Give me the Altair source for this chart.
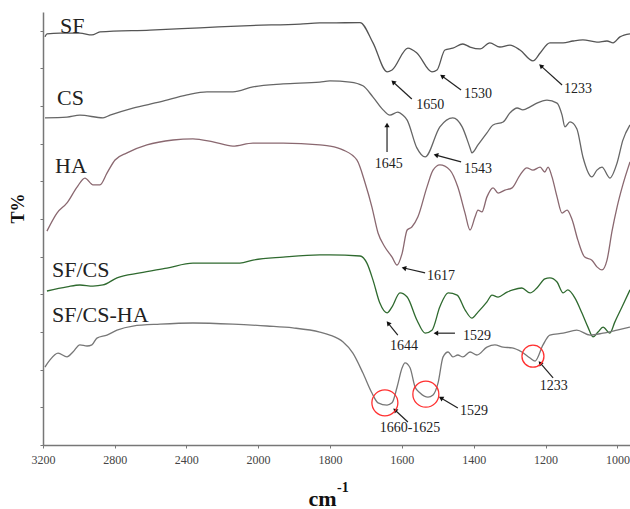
import math
import altair as alt
import pandas as pd

# ---------------- data ----------------
SERIES = ["SF", "CS", "HA", "SF/CS", "SF/CS-HA"]
COLORS = ["#555555", "#666666", "#8a6870", "#2f6a2f", "#777777"]
WIDTHS = [1.3, 1.3, 1.3, 2.0, 1.3]

sf_wn = [3189, 3178, 3105, 2994, 2927, 2882, 2603, 2324, 2045, 1883, 1828, 1800, 1716, 1680, 1641, 1627,
         1583, 1558, 1516, 1502, 1480, 1458, 1430, 1410, 1382, 1355, 1327, 1299, 1271, 1235, 1215, 1188,
         1151, 1124, 1096, 1057, 1029, 1012, 993, 965]
sf_t = [108.4, 109.2, 109.4, 109.4, 108.9, 109.7, 110.2, 110.8, 111.4, 111.8, 112.1, 112.1, 112.2, 106.8,
        99.1, 99.6, 105.4, 104.1, 99.1, 99.6, 104.9, 105.4, 106.5, 105.7, 105.2, 106.8, 105.7, 106.2,
        104.9, 102.0, 104.1, 106.8, 106.8, 107.3, 107.6, 107.0, 107.3, 106.8, 108.4, 109.2]

cs_wn = [3189, 3066, 2994, 2865, 2826, 2698, 2547, 2396, 2285, 2140, 2028, 1930, 1828, 1800, 1744, 1708,
         1680, 1652, 1633, 1611, 1597, 1585, 1558, 1535, 1494, 1458, 1432, 1410, 1405, 1388, 1363, 1346,
         1318, 1299, 1279, 1263, 1243, 1224, 1196, 1168, 1154, 1146, 1132, 1113, 1096, 1071, 1057, 1043,
         1021, 1001, 985, 965]
cs_t = [86.9, 87.1, 87.6, 86.9, 87.6, 89.5, 91.1, 93.0, 93.8, 93.8, 95.1, 95.9, 96.4, 96.7, 96.4, 95.4,
        92.4, 89.0, 87.6, 88.4, 87.6, 86.3, 78.9, 76.5, 84.5, 86.9, 84.5, 78.9, 77.6, 79.7, 82.9, 85.0,
        85.8, 88.2, 89.5, 89.0, 89.8, 90.8, 91.6, 90.8, 87.6, 84.5, 85.8, 84.0, 76.5, 71.2, 73.0, 73.8,
        70.9, 74.9, 80.9, 85.0]

ha_wn = [3178, 3122, 3066, 3010, 2966, 2921, 2882, 2843, 2798, 2731, 2620, 2474, 2363, 2251, 2140, 2028,
         1930, 1828, 1800, 1764, 1725, 1702, 1683, 1666, 1647, 1627, 1613, 1599, 1585, 1572, 1555, 1530,
         1513, 1494, 1466, 1444, 1424, 1410, 1396, 1388, 1377, 1363, 1346, 1332, 1313, 1293, 1271, 1252,
         1235, 1215, 1202, 1193, 1182, 1168, 1154, 1140, 1126, 1110, 1091, 1071, 1057, 1043, 1029, 1015,
         1001, 985, 965]
ha_t = [56.8, 61.6, 64.3, 68.5, 70.9, 69.1, 69.1, 72.2, 75.7, 77.6, 79.7, 81.0, 81.3, 80.5, 79.4, 80.2,
        80.2, 79.7, 79.4, 78.4, 75.7, 69.6, 63.2, 56.3, 52.6, 49.9, 47.8, 50.9, 57.1, 57.9, 60.6, 68.5,
        73.0, 74.4, 73.0, 68.5, 61.6, 57.1, 60.6, 62.4, 61.9, 65.9, 68.3, 66.9, 67.7, 68.3, 71.7, 73.6,
        73.0, 73.8, 72.5, 73.8, 71.2, 65.9, 61.6, 62.4, 59.8, 54.4, 49.9, 49.1, 47.3, 46.5, 49.1, 56.8,
        63.2, 69.1, 75.2]

sfcs_wn = [3178, 3066, 2994, 2921, 2865, 2787, 2659, 2508, 2363, 2229, 2101, 2028, 1930, 1828, 1800, 1716,
           1697, 1680, 1661, 1641, 1627, 1605, 1585, 1558, 1535, 1516, 1494, 1471, 1446, 1424, 1405, 1388,
           1363, 1349, 1332, 1307, 1291, 1266, 1243, 1224, 1202, 1188, 1168, 1151, 1138, 1118, 1099, 1082,
           1068, 1054, 1040, 1021, 1007, 987, 965]
sfcs_t = [40.9, 42.0, 42.5, 42.2, 42.5, 44.4, 45.7, 47.0, 48.3, 48.3, 48.3, 49.1, 49.9, 50.5, 50.5, 50.2,
          48.3, 43.8, 37.7, 35.1, 36.7, 40.4, 39.3, 33.2, 29.7, 30.5, 36.7, 40.4, 39.8, 35.9, 33.7, 35.3,
          38.0, 39.8, 39.3, 40.6, 41.2, 41.7, 40.4, 41.7, 44.1, 44.4, 43.3, 40.4, 41.2, 39.0, 35.1, 31.3,
          28.7, 30.0, 31.3, 29.7, 32.7, 36.7, 41.2]

sfcsha_wn = [3189, 3161, 3116, 3066, 3033, 2994, 2954, 2927, 2899, 2843, 2787, 2698, 2547, 2363, 2140, 1975,
             1903, 1828, 1800, 1764, 1736, 1708, 1683, 1666, 1641, 1627, 1613, 1599, 1591, 1577, 1563, 1549,
             1527, 1513, 1499, 1485, 1471, 1458, 1444, 1430, 1410, 1391, 1363, 1341, 1318, 1293, 1266, 1243,
             1229, 1207, 1188, 1151, 1113, 1076, 1040, 1001, 965]
sfcsha_t = [20.7, 22.6, 24.4, 23.4, 24.7, 26.6, 26.3, 26.6, 28.4, 29.2, 30.5, 31.6, 32.1, 32.4, 32.1, 31.6,
            31.1, 30.0, 29.2, 27.4, 24.4, 19.1, 13.8, 11.2, 10.6, 11.2, 15.4, 20.5, 21.8, 20.5, 15.4, 13.8,
            12.7, 13.3, 16.5, 23.4, 24.7, 23.4, 23.9, 23.4, 24.7, 23.9, 26.0, 26.6, 26.0, 25.8, 24.7, 23.1,
            22.3, 26.6, 29.2, 29.7, 30.5, 29.2, 29.7, 30.5, 31.3]

# series labels
lab_text = ["SF", "CS", "HA", "SF/CS", "SF/CS-HA"]
lab_wn = [3105, 3122, 3133, 3150, 3150]
lab_t = [109.4, 90.3, 72.2, 44.6, 32.7]

# peak annotations
ann_text = ["1650", "1530", "1233", "1645", "1543", "1617", "1644", "1529", "1660-1625", "1529", "1233"]
ann_wn = [1521, 1388, 1110, 1636, 1388, 1491, 1594, 1391, 1577, 1399, 1177]
ann_t = [90.3, 93.2, 94.6, 74.6, 73.3, 44.9, 26.3, 29.0, 4.5, 9.0, 15.7]

# arrows: tail -> head
arr_wn = [1572, 1435, 1154, 1641, 1435, 1535, 1611, 1452, 1583, 1444, 1179]
arr_t = [91.9, 94.3, 95.6, 77.8, 75.2, 45.7, 29.2, 29.7, 6.1, 9.8, 17.8]
arr_wn2 = [1624, 1488, 1213, 1641, 1505, 1594, 1638, 1505, 1619, 1491, 1215]
arr_t2 = [96.4, 98.0, 100.7, 85.0, 77.0, 47.0, 32.4, 29.7, 9.3, 12.5, 21.8]

# red circles
circ_wn = [1647, 1533, 1235]
circ_t = [11.2, 13.5, 23.6]
circ_size = [676, 676, 484]

X_TICKS = [3200, 2800, 2400, 2000, 1800, 1600, 1400, 1200, 1000]
Y_TICKS = [0, 10, 20, 30, 40, 50, 60, 70, 80, 90, 100, 110]

# ---------------- layout ----------------
W, H = 587, 433
X_DOMAIN = [3200, 2000, 965]
X_RANGE = [0, 215, W]
Y_DOMAIN = [0, 115]
SERIF = "Liberation Serif"


def xpix(w):
    if w >= 2000:
        return (3200 - w) / 1200 * 215
    return 215 + (2000 - w) / 1035 * (W - 215)


def ypix(t):
    return H - t / 115 * H


rows = []
for name, wn, tt in zip(SERIES, [sf_wn, cs_wn, ha_wn, sfcs_wn, sfcsha_wn],
                        [sf_t, cs_t, ha_t, sfcs_t, sfcsha_t]):
    for a, b in zip(wn, tt):
        rows.append({"series": name, "wn": a, "T": b})
spec_df = pd.DataFrame(rows)

xscale = alt.Scale(domain=X_DOMAIN, range=X_RANGE, zero=False, nice=False)
yscale = alt.Scale(domain=Y_DOMAIN, zero=False, nice=False)

XAXIS = alt.Axis(values=X_TICKS, format="d", grid=False, domainColor="#777777",
                 domainWidth=1.5, tickColor="#777777", tickSize=3,
                 labelFont=SERIF, labelFontSize=12, labelColor="#444444",
                 labelPadding=6, labelFlush=False,
                 title="cm", titleFont=SERIF, titleFontSize=22, titleFontWeight="bold",
                 titleColor="#111111", titleX=279, titleY=60, titleAlign="center",
                 titleBaseline="alphabetic")
YAXIS = alt.Axis(values=Y_TICKS, labels=False, grid=False, domainColor="#777777",
                 domainWidth=1.5, tickColor="#777777", tickSize=3,
                 title="T%", titleFont=SERIF, titleFontSize=18, titleFontWeight="bold",
                 titleColor="#111111", titleX=-25, titleY=196, titleAngle=270,
                 titleAlign="center", titleBaseline="middle")

X = alt.X("wn:Q", scale=xscale, axis=XAXIS)
Y = alt.Y("T:Q", scale=yscale, axis=YAXIS)

lines = alt.Chart(spec_df).mark_line(interpolate="monotone").encode(
    x=X, y=Y,
    color=alt.Color("series:N", scale=alt.Scale(domain=SERIES, range=COLORS), legend=None),
    strokeWidth=alt.StrokeWidth("series:N", scale=alt.Scale(domain=SERIES, range=WIDTHS), legend=None),
    detail="series:N",
)

lab_df = pd.DataFrame({"text": lab_text, "wn": lab_wn, "T": lab_t})
labels = alt.Chart(lab_df).mark_text(font=SERIF, fontSize=22, align="left", baseline="alphabetic",
                                     color="#222222").encode(x=X, y=Y, text="text:N")

ann_df = pd.DataFrame({"text": ann_text, "wn": ann_wn, "T": ann_t})
anns = alt.Chart(ann_df).mark_text(font=SERIF, fontSize=14, align="center", baseline="middle",
                                   color="#222222").encode(x=X, y=Y, text="text:N")

angles = []
for a, b, c, d in zip(arr_wn, arr_t, arr_wn2, arr_t2):
    dx = xpix(c) - xpix(a)
    dy = ypix(d) - ypix(b)
    angles.append(math.degrees(math.atan2(dx, -dy)) % 360)
arr_df = pd.DataFrame({"wn": arr_wn, "T": arr_t, "wn2": arr_wn2, "T2": arr_t2, "angle": angles})
shafts = alt.Chart(arr_df).mark_rule(color="#222222", strokeWidth=1.2).encode(
    x=X, y=Y, x2="wn2:Q", y2="T2:Q")
heads = alt.Chart(arr_df).mark_point(shape="triangle-up", filled=True, size=28, color="#111111",
                                     opacity=1).encode(
    x=alt.X("wn2:Q", scale=xscale, axis=XAXIS),
    y=alt.Y("T2:Q", scale=yscale, axis=YAXIS),
    angle=alt.Angle("angle:Q", scale=None))

circ_df = pd.DataFrame({"wn": circ_wn, "T": circ_t, "size": circ_size})
circles = alt.Chart(circ_df).mark_point(shape="circle", filled=False, color="#ff3030",
                                        strokeWidth=1.3, opacity=1).encode(
    x=X, y=Y, size=alt.Size("size:Q", scale=None, legend=None))

sup_df = pd.DataFrame({"text": ["-1"], "wn": [1780], "T": [-11.3]})
sup = alt.Chart(sup_df).mark_text(font=SERIF, fontSize=14, fontWeight="bold", align="left",
                                  baseline="middle", color="#111111").encode(x=X, y=Y, text="text:N")

chart = alt.layer(lines, labels, shafts, heads, circles, anns, sup).properties(
    width=W, height=H,
    autosize=alt.AutoSizeParams(type="none"),
    padding={"left": 43, "top": 12, "right": 0, "bottom": 64},
    background="white",
).configure_view(stroke=None).configure_axis(
    labelFont=SERIF, titleFont=SERIF
).configure_text(font=SERIF)

chart.save("out.html", embed_options={"renderer": "svg", "actions": False})
